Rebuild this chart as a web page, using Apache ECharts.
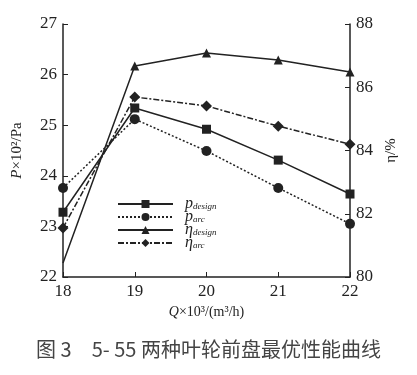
<!DOCTYPE html>
<html><head><meta charset="utf-8">
<script src="https://cdn.jsdelivr.net/npm/echarts@6/dist/echarts.min.js"></script>
<style>html,body{margin:0;padding:0;background:#fff}#c{width:417px;height:375px}</style>
</head><body><div id="c"></div>
<script>
const categories = ['18','19','20','21','22'];
const pDesign = [23.28, 25.34, 24.92, 24.31, 23.64];
const pArc = [23.76, 25.12, 24.49, 23.76, 23.05];
const etaDesign = [80.44, 86.67, 87.08, 86.86, 86.48];
const etaArc = [81.55, 85.69, 85.41, 84.77, 84.2];
const leftTicks = {min: 22, max: 27, interval: 1};
const rightTicks = {min: 80, max: 88, interval: 2};

const serif = '"Liberation Serif", "Times New Roman", serif';
const col = '#222';
const chart = echarts.init(document.getElementById('c'));
const names = ['p_design','p_arc','eta_design','eta_arc'];
const labelMap = {
  'p_design': '{i|p}{s|design}',
  'p_arc': '{i|p}{s|arc}',
  'eta_design': '{i|η}{s|design}',
  'eta_arc': '{i|η}{s|arc}'
};
const legends = names.map((n, k) => ({
  orient: 'vertical', left: 112, top: 191 + k * 13,
  itemWidth: 55, itemHeight: 10,
  data: [n],
  formatter: nm => labelMap[nm],
  textStyle: {
    padding: [0,0,0,7],
    rich: {
      i: {fontFamily: serif, fontStyle: 'italic', fontSize: 16, color: col, lineHeight: 11},
      s: {fontFamily: serif, fontStyle: 'italic', fontSize: 9, color: col, lineHeight: 5, padding: [6,0,0,0]}
    }
  }
}));
chart.setOption({
  animation: false,
  textStyle: {fontFamily: serif, color: col},
  title: {
    text: '图 3　5- 55 两种叶轮前盘最优性能曲线',
    left: 'center', top: 334,
    textStyle: {fontFamily: '"Noto Sans CJK SC", sans-serif', fontSize: 20, fontWeight: 'normal', color: '#444'}
  },
  grid: {left: 63, right: 67, top: 24, bottom: 98},
  legend: legends,
  xAxis: {
    type: 'category', data: categories, boundaryGap: false,
    name: '{i|Q}×10³/(m³/h)', nameLocation: 'middle', nameGap: 28,
    nameTextStyle: {fontFamily: serif, fontSize: 14, color: col, rich: {i: {fontFamily: serif, fontStyle: 'italic', fontSize: 14, color: col}}},
    axisLine: {lineStyle: {color: col, width: 1.5}},
    axisTick: {inside: true, length: 5, lineStyle: {color: col}},
    axisLabel: {fontFamily: serif, fontSize: 17, color: col, margin: 6},
    splitLine: {show: false}
  },
  yAxis: [{
    type: 'value', position: 'left', min: leftTicks.min, max: leftTicks.max, interval: leftTicks.interval,
    name: '{i|P}×10²/Pa', nameLocation: 'middle', nameGap: 38, nameRotate: 90,
    nameTextStyle: {fontFamily: serif, fontSize: 15, color: col, rich: {i: {fontFamily: serif, fontStyle: 'italic', fontSize: 15, color: col}}},
    axisLine: {show: true, lineStyle: {color: col, width: 1.5}},
    axisTick: {show: true, inside: true, length: 5, lineStyle: {color: col}},
    axisLabel: {fontFamily: serif, fontSize: 17, color: col, margin: 6},
    splitLine: {show: false}
  }, {
    type: 'value', position: 'right', min: rightTicks.min, max: rightTicks.max, interval: rightTicks.interval,
    name: 'η/%', nameLocation: 'middle', nameGap: 34, nameRotate: 90,
    nameTextStyle: {fontFamily: serif, fontSize: 15, color: col},
    axisLine: {show: true, lineStyle: {color: col, width: 1.5}},
    axisTick: {show: true, inside: true, length: 5, lineStyle: {color: col}},
    axisLabel: {fontFamily: serif, fontSize: 17, color: col, margin: 6},
    splitLine: {show: false}
  }],
  series: [{
    name: 'p_design', type: 'line', yAxisIndex: 0, data: pDesign,
    symbol: 'rect', symbolSize: 9,
    lineStyle: {color: col, width: 1.5, type: 'solid'}, itemStyle: {color: col}
  }, {
    name: 'p_arc', type: 'line', yAxisIndex: 0, data: pArc,
    symbol: 'circle', symbolSize: 10,
    lineStyle: {color: col, width: 1.5, type: [2,2]}, itemStyle: {color: col}
  }, {
    name: 'eta_design', type: 'line', yAxisIndex: 1,
    data: etaDesign.map((v, i) => i === 0 ? {value: v, symbol: 'none'} : v),
    symbol: 'triangle', symbolSize: 9,
    lineStyle: {color: col, width: 1.5, type: 'solid'}, itemStyle: {color: col}
  }, {
    name: 'eta_arc', type: 'line', yAxisIndex: 1, data: etaArc,
    symbol: 'diamond', symbolSize: 11,
    lineStyle: {color: col, width: 1.5, type: [6,2,2,2]}, itemStyle: {color: col}
  }]
});
</script></body></html>
